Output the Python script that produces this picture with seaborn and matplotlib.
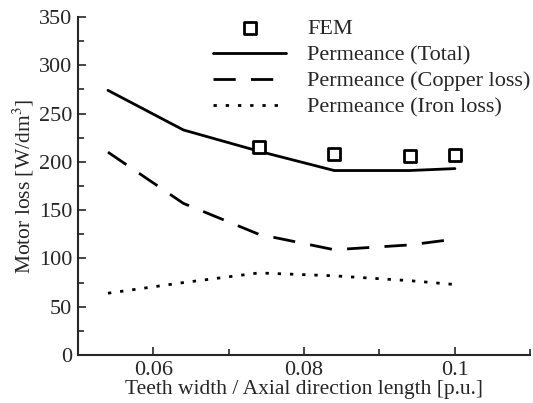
import numpy as np
import pandas as pd
import matplotlib
matplotlib.use('Agg')
import matplotlib.pyplot as plt
import seaborn as sns
from matplotlib.ticker import MultipleLocator

# Data
ratio = [0.054, 0.064, 0.074, 0.084, 0.094, 0.1]
total_loss = [274, 233, 211, 191, 191, 193]
copper_loss = [210, 157, 125, 109, 114, 120]
iron_loss = [64, 75, 85, 82, 77, 73]

fem_ratio = [0.074, 0.084, 0.094, 0.1]
fem_loss = [215, 208, 206, 207]

sns.set_style('ticks')
plt.rcParams['font.family'] = ['Liberation Serif', 'DejaVu Serif']
plt.rcParams['mathtext.fontset'] = 'stix'

fig = plt.figure(figsize=(5.33, 4.03), dpi=100)
ax = fig.add_axes([0.146, 0.119, 0.849, 0.839])

df = pd.DataFrame({'x': ratio, 'total': total_loss, 'copper': copper_loss, 'iron': iron_loss})
fem_df = pd.DataFrame({'x': fem_ratio, 'y': fem_loss})

sns.scatterplot(data=fem_df, x='x', y='y', ax=ax, marker='s', s=80,
                facecolor='white', edgecolor='black', linewidth=2, label='FEM', zorder=3)
sns.lineplot(data=df, x='x', y='total', ax=ax, color='black', linewidth=2,
             label='Permeance (Total)')
sns.lineplot(data=df, x='x', y='copper', ax=ax, color='black', linewidth=2,
             dashes=False, label='Permeance (Copper loss)')
sns.lineplot(data=df, x='x', y='iron', ax=ax, color='black', linewidth=2,
             label='Permeance (Iron loss)')
ax.lines[1].set_dashes([8, 5.5])
ax.lines[2].set_dashes([1.2, 3.2])

ax.set_xlim(0.05, 0.11)
ax.set_ylim(0, 350)
ax.set_xticks([0.06, 0.08, 0.1])
ax.set_xticklabels(['0.06', '0.08', '0.1'])
ax.xaxis.set_minor_locator(MultipleLocator(0.01))
ax.yaxis.set_major_locator(MultipleLocator(50))
ax.yaxis.set_minor_locator(MultipleLocator(25))
ax.tick_params(which='major', direction='in', length=6, width=1.2, labelsize=16, pad=4)
ax.tick_params(which='minor', direction='in', length=4, width=1.2)
sns.despine(ax=ax)
for s in ['left', 'bottom']:
    ax.spines[s].set_linewidth(1.5)

ax.set_xlabel('Teeth width / Axial direction length [p.u.]', fontsize=15.5, labelpad=0)
ax.set_ylabel('Motor loss [W/dm$^3$]', fontsize=15.5, labelpad=2)

leg = ax.legend(loc='upper right', bbox_to_anchor=(1.045, 1.054), frameon=False,
                fontsize=16, handlelength=3.3, handletextpad=0.95, labelspacing=0.25)

fig.savefig('out.png', dpi=100)
